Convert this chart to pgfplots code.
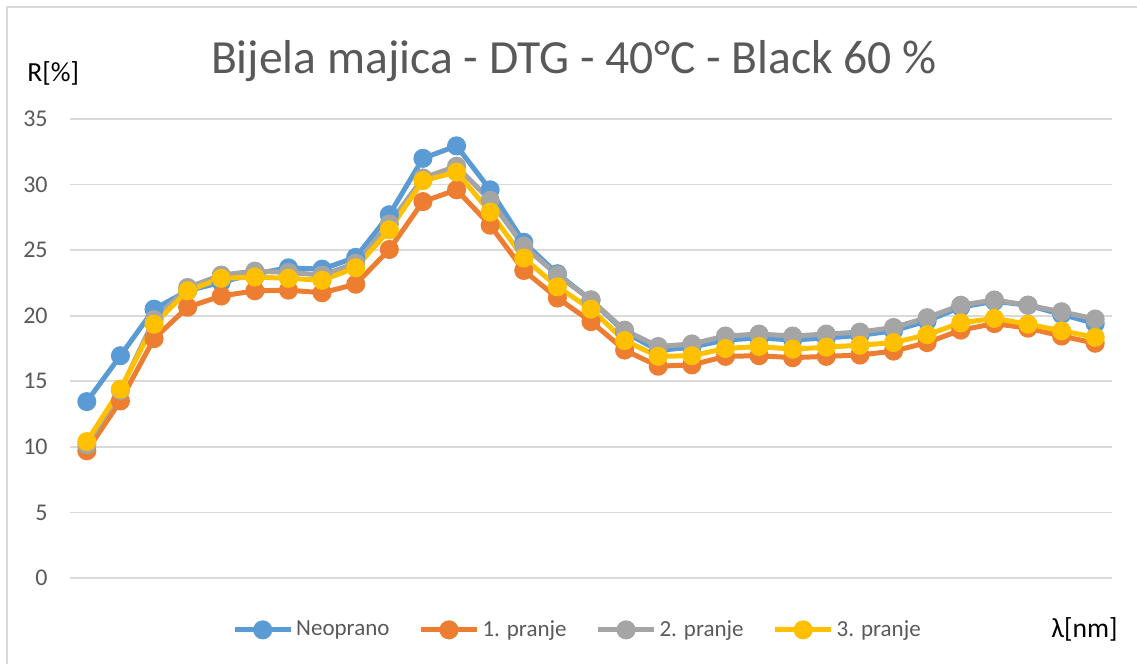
\documentclass[border=0pt]{standalone}
\usepackage{fontspec}
\setmainfont{Carlito}
\usepackage{pgfplots}
\pgfplotsset{compat=1.18}
\definecolor{cBlue}{HTML}{5B9BD5}
\definecolor{cOrange}{HTML}{ED7D31}
\definecolor{cGray}{HTML}{A5A5A5}
\definecolor{cYellow}{HTML}{FFC000}
\definecolor{gridc}{HTML}{D9D9D9}
\definecolor{txt}{HTML}{595959}
\begin{document}
\begin{tikzpicture}
\path[use as bounding box] (-35bp,-43bp) rectangle (533.5bp,289bp);
\draw[gridc, line width=1bp] (-31.5bp,-43bp) -- (-31.5bp,285.5bp) -- (533.5bp,285.5bp);
\begin{axis}[
  at={(0,0)}, anchor=south west,
  scale only axis,
  width=521bp, height=229.5bp,
  xmin=-0.5, xmax=30.5,
  ymin=0, ymax=35,
  xtick=\empty,
  ytick={0,5,...,35},
  ymajorgrids,
  grid style={gridc, line width=0.8bp},
  axis line style={draw=none},
  major tick length=0pt,
  /pgf/number format/assume math mode=true,
  yticklabel style={font=\fontsize{12bp}{13bp}\selectfont, text=txt, inner sep=0pt, xshift=-11bp},
  clip=false,
  every axis plot/.append style={line width=2.5bp, mark=*, mark size=3.5bp, mark options={solid}},
  legend columns=4,
  legend style={draw=none, fill=none, at={(axis description cs:0.4875,-0.113)}, anchor=center,
    font=\fontsize{11.5bp}{13bp}\selectfont, text=txt,
    /tikz/every even column/.append style={column sep=13bp},
    nodes={inner sep=1.5bp}},
  legend image code/.code={
    \draw[mark repeat=2,mark phase=2,#1] plot coordinates {(0bp,0bp) (14bp,0bp) (28bp,0bp)};
  },
]
\addplot[color=cBlue] coordinates {
(0,13.45)(1,16.95)(2,20.5)(3,21.9)(4,22.55)(5,23.2)(6,23.65)(7,23.55)(8,24.45)(9,27.7)
(10,32.0)(11,32.95)(12,29.6)(13,25.6)(14,23.2)(15,21.2)(16,18.75)(17,17.35)(18,17.6)(19,18.15)
(20,18.3)(21,18.15)(22,18.3)(23,18.5)(24,18.85)(25,19.6)(26,20.65)(27,21.1)(28,20.8)(29,20.1)(30,19.4)};
\addlegendentry{Neoprano}
\addplot[color=cOrange] coordinates {
(0,9.7)(1,13.5)(2,18.25)(3,20.65)(4,21.5)(5,21.9)(6,21.95)(7,21.75)(8,22.4)(9,25.05)
(10,28.7)(11,29.6)(12,26.9)(13,23.45)(14,21.35)(15,19.55)(16,17.38)(17,16.15)(18,16.25)(19,16.9)
(20,16.95)(21,16.8)(22,16.9)(23,17.0)(24,17.3)(25,17.95)(26,18.9)(27,19.4)(28,19.05)(29,18.45)(30,17.9)};
\addlegendentry{1. pranje}
\addplot[color=cGray] coordinates {
(0,10.15)(1,14.3)(2,19.7)(3,22.15)(4,23.1)(5,23.4)(6,23.3)(7,23.1)(8,24.0)(9,27.0)
(10,30.5)(11,31.4)(12,28.8)(13,25.3)(14,23.1)(15,21.2)(16,18.9)(17,17.65)(18,17.85)(19,18.45)
(20,18.6)(21,18.45)(22,18.6)(23,18.75)(24,19.1)(25,19.85)(26,20.8)(27,21.2)(28,20.8)(29,20.3)(30,19.75)};
\addlegendentry{2. pranje}
\addplot[color=cYellow] coordinates {
(0,10.4)(1,14.4)(2,19.35)(3,21.9)(4,22.85)(5,22.95)(6,22.85)(7,22.7)(8,23.65)(9,26.55)
(10,30.3)(11,30.95)(12,27.9)(13,24.4)(14,22.2)(15,20.5)(16,18.1)(17,16.9)(18,16.95)(19,17.5)
(20,17.65)(21,17.45)(22,17.6)(23,17.75)(24,17.95)(25,18.55)(26,19.45)(27,19.8)(28,19.35)(29,18.85)(30,18.35)};
\addlegendentry{3. pranje}
\end{axis}
\node[anchor=base, text=txt, font=\fontsize{23.8bp}{26bp}\selectfont, inner sep=0pt] at (252bp,252bp) {Bijela majica - DTG - 40°C - Black 60 \%};
\node[anchor=base west, font=\fontsize{13.8bp}{16bp}\selectfont, inner sep=0pt] at (-21.5bp,248bp) {R[\%]};
\node[anchor=base east, font=\fontsize{13.8bp}{16bp}\selectfont, inner sep=0pt] at (524bp,-29.5bp) {λ[nm]};
\end{tikzpicture}
\end{document}
